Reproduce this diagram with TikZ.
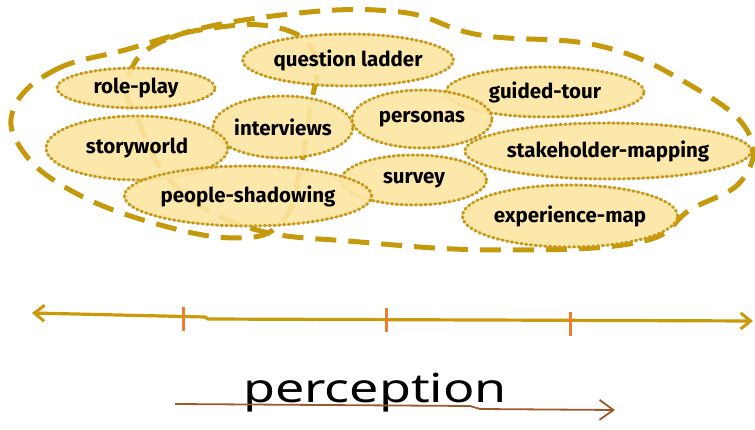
\documentclass[tikz,border=0pt]{standalone}
\usepackage{fontspec}
\setmainfont{Fira Sans}
\newfontfamily\handfont{Noto Sans}[FakeStretch=1.3]
\usetikzlibrary{shapes.geometric,arrows.meta}
\definecolor{nodefill}{HTML}{FDE6A2}
\definecolor{dotcol}{HTML}{C9991C}
\definecolor{lassocol}{HTML}{C49A0C}
\definecolor{axiscol}{HTML}{C99A0A}
\definecolor{tickcol}{HTML}{ED7D31}
\definecolor{browncol}{HTML}{9C5A2C}
\tikzset{
  blob/.style={ellipse, draw=dotcol, fill=nodefill, fill opacity=0.9, text opacity=1,
    line width=3pt, dash pattern=on 1.4pt off 3.4pt, line cap=round,
    inner sep=0pt, font=\fontsize{20.5}{22}\selectfont\bfseries},
  lasso/.style={draw=lassocol, line width=5pt, dash pattern=on 21pt off 12pt},
  tickmark/.style={draw=tickcol, line width=3pt},
}
\begin{document}
\begin{tikzpicture}[x=1pt,y=-1pt]
\useasboundingbox (0,0) rectangle (755,430);
% lasso loops
\draw[lasso] plot[smooth cycle, tension=0.7] coordinates {(14,108) (55,70) (125,50) (200,30) (275,27) (315,55) (310,110) (300,170) (282,222) (235,238) (150,222) (70,190) (22,150)};
\draw[lasso] plot[smooth cycle, tension=0.7] coordinates {(128,78) (170,38) (290,14) (400,12) (480,35) (600,46) (690,85) (748,132) (742,180) (690,210) (640,242) (500,250) (360,242) (250,228) (175,185) (140,125)};
% nodes
\node[blob, minimum width=190pt, minimum height=52pt] (ql) at (348,60) {question ladder};
\node[blob, minimum width=158pt, minimum height=40pt] (rp) at (136,88) {role-play};
\node[blob, minimum width=198pt, minimum height=50pt] (gt) at (545,92) {guided-tour};
\node[blob, minimum width=140pt, minimum height=58pt] (pe) at (422,119) {personas};
\node[blob, minimum width=140pt, minimum height=62pt] (iv) at (283,127) {interviews};
\node[blob, minimum width=182pt, minimum height=64pt] (sw) at (137,148) {storyworld};
\node[blob, minimum width=145pt, minimum height=50pt] (sv) at (414,180) {survey};
\node[blob, minimum width=252pt, minimum height=56pt] (sm) at (608,151) {stakeholder-mapping};
\node[blob, minimum width=218pt, minimum height=60pt] (ps) at (248,196) {people-shadowing};
\node[blob, minimum width=212pt, minimum height=62pt] (em) at (570,216) {experience-map};
% axis
\coordinate (axl) at (32,313);
\coordinate (axm) at (208,319);
\coordinate (axr) at (753,321);
\draw[axiscol, line width=3.2pt, {Straight Barb[length=10pt,width=16pt,line width=3pt]}-{Straight Barb[length=10pt,width=16pt,line width=3pt]}] (axl) -- (205,317) -- (axm) -- (axr);
\coordinate (t1a) at (183,307); \coordinate (t1b) at (183,331);
\coordinate (t2a) at (386,308); \coordinate (t2b) at (386,332);
\coordinate (t3a) at (570,312); \coordinate (t3b) at (570,336);
\draw[tickmark] (t1a) -- (t1b);
\draw[tickmark] (t2a) -- (t2b);
\draw[tickmark] (t3a) -- (t3b);
% perception
\node[font=\handfont\fontsize{40}{42}\selectfont, inner sep=0pt, anchor=base] (lbl) at (375,402) {perception};
\coordinate (pa) at (175,404);
\coordinate (pb) at (615,410);
\draw[browncol, line width=1.8pt, -{Straight Barb[length=14pt,width=20pt,line width=1.8pt]}] (pa) -- (470,406) -- (480,409) -- (pb);
\end{tikzpicture}
\end{document}
